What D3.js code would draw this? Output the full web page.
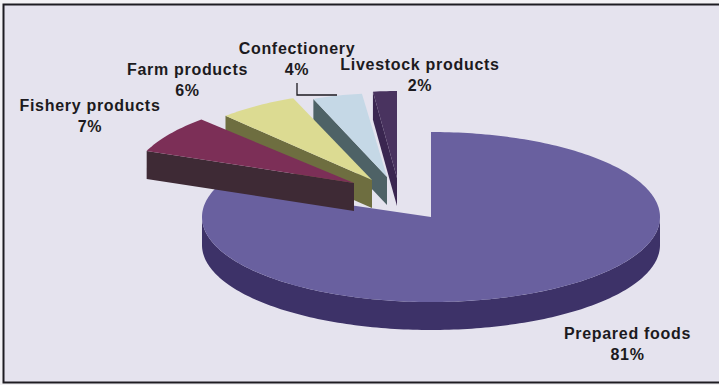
<!DOCTYPE html>
<html>
<head>
<meta charset="utf-8">
<script src="https://cdn.jsdelivr.net/npm/d3@7"></script>
<style>
html,body{margin:0;padding:0;background:#f3f2f5;}
text{font-family:"Liberation Sans",Arial,sans-serif;font-weight:700;font-size:16px;letter-spacing:.7px;fill:#1c1a20;text-anchor:middle;}
</style>
</head>
<body>
<svg id="chart" width="719" height="385" style="display:block"></svg>
<script>
// Product mix, clockwise from twelve o'clock
const categories = ["Prepared foods","Fishery products","Farm products","Confectionery","Livestock products"];
const shares = [81,7,6,4,2];
const topColors = ["#69609f","#7c2f57","#dcdb92","#c5d8e6","#49335f"];
const sideColors = ["#3d3268","#3e2a35","#6e6e40","#4e6266","#3a2650"];

// Tilted-disc layout: hub position and ellipse radii for each wedge
const hubX = [431,354,372,387,397];
const hubY = [217,183,180,177,178];
const radiusX = [229,223,214,200,192];
const radiusY = [85,87,88,84,87];
const depth = 28;
const paintOrder = [0,4,3,2,1];

// Label anchors (centre x, first baseline y)
const labelX = [627.5,90,187.5,297,420];
const labelY = [339,111,75,54,70];

const svg = d3.select("#chart");
svg.append("rect").attr("x",3.5).attr("y",4.5).attr("width",730).attr("height",378)
  .attr("fill","#e5e3ee").attr("stroke","#1e1c22").attr("stroke-width",2);

const arcs = d3.pie().sort(null).value(d=>d).startAngle(0).endAngle(2*Math.PI)(shares);
const line = d3.line();

function rim(i,a){
  return [hubX[i]+radiusX[i]*Math.sin(a), hubY[i]-radiusY[i]*Math.cos(a)];
}
function arcPoints(i,a0,a1){
  const n = Math.max(2,Math.ceil((a1-a0)/0.02));
  return d3.range(n+1).map(k=>rim(i,a0+(a1-a0)*k/n));
}

paintOrder.forEach(i=>{
  const {startAngle:a0,endAngle:a1} = arcs[i];
  const g = svg.append("g").attr("class","slice");
  const hub = [hubX[i],hubY[i]];
  const drop = p=>[p[0],p[1]+depth];

  // Outer wall: the part of the rim that faces the viewer
  const wallFrom = Math.max(a0,Math.PI/2), wallTo = Math.min(a1,3*Math.PI/2);
  if(wallTo>wallFrom){
    const edge = arcPoints(i,wallFrom,wallTo);
    g.append("path").attr("d",line(edge.concat(edge.slice().reverse().map(drop)))+"Z").attr("fill",sideColors[i]);
  }
  // Cut face of each exploded wedge along its leading edge
  if(i>0){
    const first = rim(i,a0);
    g.append("path").attr("d",line([hub,first,drop(first),drop(hub)])+"Z").attr("fill",sideColors[i]);
  }
  // Top face
  g.append("path").attr("d",line([hub].concat(arcPoints(i,a0,a1)))+"Z").attr("fill",topColors[i]);
});

// Leader from the Confectionery label to its wedge
const lead = [[297,83],[297,95],[337,95]];
svg.append("path").attr("d",line(lead)).attr("fill","none").attr("stroke","#1c1a20").attr("stroke-width",1.3);

categories.forEach((c,i)=>{
  const t = svg.append("text").attr("x",labelX[i]).attr("y",labelY[i]);
  t.append("tspan").attr("x",labelX[i]).text(c);
  t.append("tspan").attr("x",labelX[i]).attr("dy",21).text(shares[i]+"%");
});
</script>
</body>
</html>
